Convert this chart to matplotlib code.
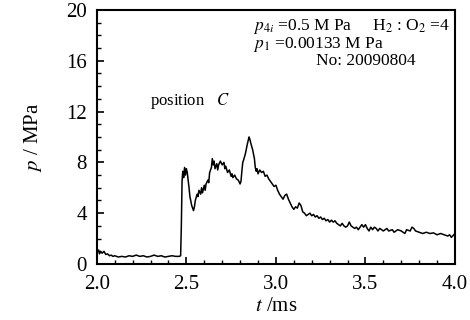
import matplotlib
matplotlib.use('Agg')
import matplotlib.pyplot as plt
import numpy as np

# pressure trace at position C
t_ms = [2.00, 2.01, 2.015, 2.02, 2.03, 2.04, 2.05, 2.06, 2.07, 2.08, 2.09, 2.10,
        2.12, 2.14, 2.16, 2.18, 2.20, 2.22, 2.24, 2.26, 2.28, 2.30, 2.32, 2.34,
        2.36, 2.38, 2.40, 2.42, 2.44, 2.46, 2.468, 2.472, 2.476, 2.48, 2.485,
        2.49, 2.495, 2.50, 2.505, 2.51, 2.515, 2.52, 2.53, 2.54, 2.545, 2.55,
        2.56, 2.565, 2.57, 2.58, 2.585, 2.59, 2.60, 2.605, 2.61, 2.62, 2.625,
        2.63, 2.64, 2.645, 2.65, 2.655, 2.66, 2.67, 2.675, 2.68, 2.69, 2.70,
        2.71, 2.715, 2.72, 2.73, 2.74, 2.75, 2.755, 2.76, 2.77, 2.78, 2.79,
        2.80, 2.805, 2.81, 2.815, 2.82, 2.83, 2.84, 2.85, 2.855, 2.86, 2.87,
        2.88, 2.885, 2.89, 2.895, 2.90, 2.91, 2.92, 2.93, 2.94, 2.95, 2.96,
        2.97, 2.98, 2.99, 3.00, 3.01, 3.02, 3.03, 3.04, 3.05, 3.06, 3.07, 3.08,
        3.09, 3.10, 3.11, 3.12, 3.13, 3.14, 3.15, 3.16, 3.17, 3.18, 3.19, 3.20,
        3.21, 3.22, 3.23, 3.24, 3.25, 3.26, 3.27, 3.28, 3.29, 3.30, 3.31, 3.32,
        3.33, 3.34, 3.35, 3.36, 3.37, 3.38, 3.39, 3.40, 3.41, 3.42, 3.43, 3.44,
        3.45, 3.46, 3.47, 3.48, 3.49, 3.50, 3.51, 3.52, 3.53, 3.54, 3.55, 3.56,
        3.57, 3.58, 3.59, 3.60, 3.62, 3.63, 3.65, 3.66, 3.68, 3.70, 3.72, 3.73,
        3.75, 3.76, 3.77, 3.78, 3.80, 3.82, 3.84, 3.86, 3.88, 3.90, 3.92, 3.94,
        3.96, 3.97, 3.98, 3.99, 4.00]
p_mpa = [0.9, 1.1, 0.8, 1.0, 0.85, 1.0, 0.75, 0.8, 0.65, 0.7, 0.6, 0.65,
         0.55, 0.6, 0.55, 0.65, 0.6, 0.7, 0.6, 0.65, 0.55, 0.6, 0.7, 0.6,
         0.65, 0.55, 0.6, 0.65, 0.6, 0.6, 0.65, 3.0, 6.5, 7.3, 6.8,
         7.6, 7.0, 7.5, 7.2, 6.6, 6.0, 5.3, 4.6, 4.2, 4.5, 5.0,
         5.5, 5.3, 5.8, 5.5, 6.0, 5.6, 6.2, 5.8, 6.3, 6.6, 6.4,
         7.2, 7.6, 8.3, 7.8, 8.1, 7.5, 7.9, 7.4, 7.8, 8.1, 7.8,
         8.0, 7.5, 7.7, 7.2, 7.4, 6.9, 7.1, 6.8, 7.0, 6.7, 6.6,
         6.3, 6.5, 7.3, 8.0, 8.2, 8.7, 9.4, 10.0, 9.8, 9.5, 9.0,
         8.3, 7.6, 7.3, 7.5, 7.1, 7.4, 7.2, 7.3, 6.9, 7.0, 6.7,
         6.5, 6.3, 6.1, 6.2, 5.8, 5.5, 5.3, 5.1, 5.4, 5.5, 5.1, 4.8,
         4.5, 4.3, 4.5, 4.4, 4.8, 4.6, 4.1, 4.0, 3.8, 3.9, 4.0, 3.8,
         3.9, 3.7, 3.8, 3.6, 3.7, 3.5, 3.6, 3.4, 3.5, 3.3, 3.45, 3.3,
         3.4, 3.2, 3.1, 3.0, 3.2, 3.0, 2.9, 3.0, 3.3, 3.0, 2.9, 2.8,
         2.9, 2.7, 2.9, 3.1, 2.9, 3.1, 2.8, 2.6, 2.9, 2.7, 2.9, 2.8,
         2.6, 2.8, 2.7, 2.6, 2.8, 2.6, 2.7, 2.5, 2.7, 2.6, 2.4, 2.7,
         2.6, 2.9, 2.8, 2.6, 2.5, 2.4, 2.5, 2.4, 2.45, 2.3, 2.4, 2.3,
         2.2, 2.3, 2.1, 2.25, 2.4]

x_ticks = [2.0, 2.5, 3.0, 3.5, 4.0]
y_ticks = [0, 4, 8, 12, 16, 20]

plt.rcParams['font.family'] = ['Liberation Serif', 'DejaVu Serif']
plt.rcParams['mathtext.fontset'] = 'stix'

fig = plt.figure(figsize=(4.7, 3.2), dpi=100)
ax = fig.add_axes([0.206, 0.175, 0.762, 0.794])

ax.plot(t_ms, p_mpa, color='black', linewidth=1.1)

ax.set_xlim(2.0, 4.0)
ax.set_ylim(0, 20)
ax.set_xticks(x_ticks)
ax.set_xticklabels(['%.1f' % v for v in x_ticks])
ax.set_yticks(y_ticks)
ax.set_xticks(np.arange(2.0, 4.01, 0.1), minor=True)
ax.set_yticks(np.arange(0, 20.1, 1), minor=True)
ax.tick_params(axis='both', which='major', direction='in', length=5, width=1.2,
               labelsize=15, top=False, right=False)
ax.tick_params(axis='x', which='major', pad=8)
ax.tick_params(axis='y', which='major', pad=7)
ax.tick_params(axis='both', which='minor', direction='in', length=3, width=1,
               top=False, right=False)
for s in ax.spines.values():
    s.set_linewidth(1.5)

ax.set_xlabel('$\\it{t}$ /ms', fontsize=15, labelpad=2)
ax.set_ylabel('$\\it{p}$ / MPa', fontsize=15, labelpad=16)

# annotations
ax.text(0.985, 0.922, '$p_{4i}$ =0.5 M Pa     H$_2$ : O$_2$ =4', transform=ax.transAxes,
        ha='right', va='baseline', fontsize=12.5)
ax.text(0.62, 0.852, '$p_1$ =0.00133 M Pa', transform=ax.transAxes,
        ha='center', va='baseline', fontsize=12.5)
ax.text(0.75, 0.785, 'No: 20090804', transform=ax.transAxes,
        ha='center', va='baseline', fontsize=12.5)
ax.text(0.148, 0.64, 'position   $\\it{C}$', transform=ax.transAxes,
        ha='left', va='center', fontsize=12)

fig.savefig('out.png', dpi=100)
